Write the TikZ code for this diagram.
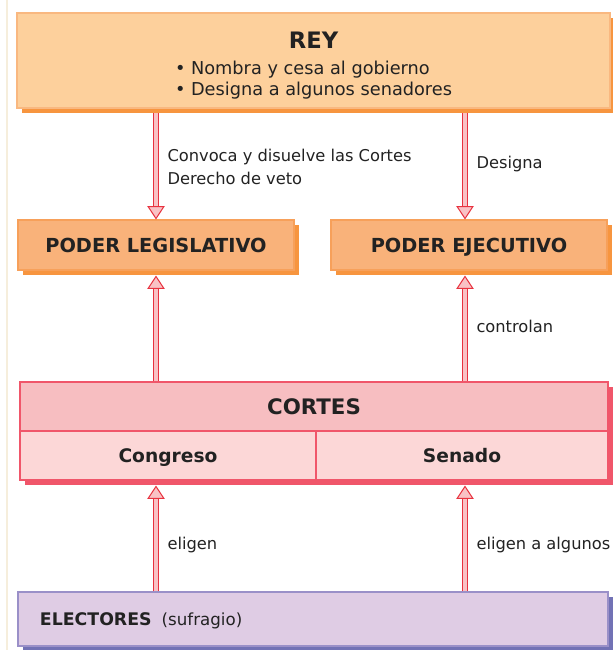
\documentclass[tikz,border=0pt]{standalone}
\usepackage{fontspec}
\setmainfont{DejaVu Sans}
\usetikzlibrary{arrows.meta,shadows}

\definecolor{txtdark}{HTML}{222222}
\definecolor{edgebeige}{HTML}{F6EEDC}
\definecolor{reyfill}{HTML}{FDD09C}
\definecolor{reyline}{HTML}{F9B880}
\definecolor{poderfill}{HTML}{F9B27A}
\definecolor{poderline}{HTML}{F7A05A}
\definecolor{orshadow}{HTML}{F7953F}
\definecolor{cortestop}{HTML}{F7BEC1}
\definecolor{cortesbot}{HTML}{FCD7D7}
\definecolor{cortesline}{HTML}{F0566A}
\definecolor{elecfill}{HTML}{DFCCE4}
\definecolor{elecline}{HTML}{9A90C8}
\definecolor{elecshadow}{HTML}{7272B5}
\definecolor{arrowred}{HTML}{E8323F}
\definecolor{arrowpink}{HTML}{F9C2C5}

\begin{document}
\begin{tikzpicture}[x=0.75pt, y=-0.75pt,
    every node/.style={inner sep=0pt, text=txtdark},
    shadowed/.style={drop shadow={shadow xshift=3.5pt, shadow yshift=-3.5pt, opacity=1, fill=#1}},
    reybox/.style={rectangle, draw=reyline, fill=reyfill, line width=0.8pt, shadowed=orshadow,
        minimum width=444.75pt, minimum height=71.25pt, align=center},
    poderbox/.style={rectangle, draw=poderline, fill=poderfill, line width=0.8pt, shadowed=orshadow,
        minimum width=207pt, minimum height=37.5pt, text height=10.5pt, text depth=0pt,
        font=\fontsize{14.5}{17}\selectfont\bfseries},
    cortesbox/.style={rectangle, draw=cortesline, line width=0.8pt, shadowed=cortesline,
        minimum height=36.75pt, text height=10.2pt, text depth=0pt, font=\fontsize{14}{17}\selectfont\bfseries},
    elecbox/.style={rectangle, draw=elecline, fill=elecfill, line width=0.8pt, shadowed=elecshadow,
        minimum width=442.5pt, minimum height=40.5pt, inner xsep=16.5pt, text width=409.5pt,
        text height=9.5pt, text depth=0pt, align=left},
    hollow/.style={draw=arrowred, line width=0.75pt, double=arrowpink, double distance=3.5pt,
        -{Triangle[width=13pt, length=10pt, fill=arrowpink, line width=0.75pt]}},
    lbl/.style={font=\fontsize{12.2}{17.25}\selectfont, align=left, right, xshift=8.25pt}]

    \useasboundingbox (0,0) rectangle (613,650);
    \fill[white] (0,0) rectangle (613,650);
    \draw[edgebeige, line width=1.2pt] (7,0) -- (7,650);

    \node[reybox] (rey) at (313.5,60.5)
        {{\fontsize{17}{20}\selectfont\bfseries\rule{0pt}{22pt}REY}\\[7pt]
         {\fontsize{13.3}{16}\selectfont\begin{tabular}{@{}l@{}}
         • Nombra y cesa al gobierno\\
         • Designa a algunos senadores
         \end{tabular}}};

    \node[poderbox] (legis) at (156,245) {PODER LEGISLATIVO};
    \node[poderbox] (ejec) at (469,245) {PODER EJECUTIVO};

    \node[cortesbox, fill=cortestop, minimum width=441pt, text height=11.6pt,
        font=\fontsize{16}{19}\selectfont\bfseries] (cortes) at (314,406.5) {CORTES};
    \node[cortesbox, fill=cortesbot, minimum width=222pt] (congreso) at (168,455.5) {Congreso};
    \node[cortesbox, fill=cortesbot, minimum width=219pt] (senado) at (462,455.5) {Senado};

    \node[elecbox] (electores) at (313,619)
        {{\fontsize{13}{16}\selectfont\bfseries ELECTORES}\hspace{7.5pt}{\fontsize{12.5}{15}\selectfont(sufragio)}};

    % rey -> poderes
    \draw[hollow, shorten <=3.5pt] (rey.south -| legis.north) -- node[lbl, yshift=-2pt]
        {Convoca y disuelve las Cortes\\Derecho de veto} (legis.north);
    \draw[hollow, shorten <=3.5pt] ([xshift=-3pt]ejec.north |- rey.south) -- node[lbl] {Designa}
        ([xshift=-3pt]ejec.north);

    % cortes -> poderes
    \draw[hollow, shorten >=3.75pt] (cortes.north -| legis.south) -- (legis.south);
    \draw[hollow, shorten >=3.75pt] ([xshift=-3pt]ejec.south |- cortes.north) -- node[lbl] {controlan}
        ([xshift=-3pt]ejec.south);

    % electores -> cortes
    \draw[hollow, shorten >=3.75pt] (electores.north -| legis.south) -- node[lbl, pos=0.42] {eligen}
        (congreso.south -| legis.south);
    \draw[hollow, shorten >=3.75pt] ([xshift=-3pt]ejec.south |- electores.north) -- node[lbl, pos=0.42]
        {eligen a algunos} ([xshift=-3pt]ejec.south |- senado.south);
\end{tikzpicture}
\end{document}
